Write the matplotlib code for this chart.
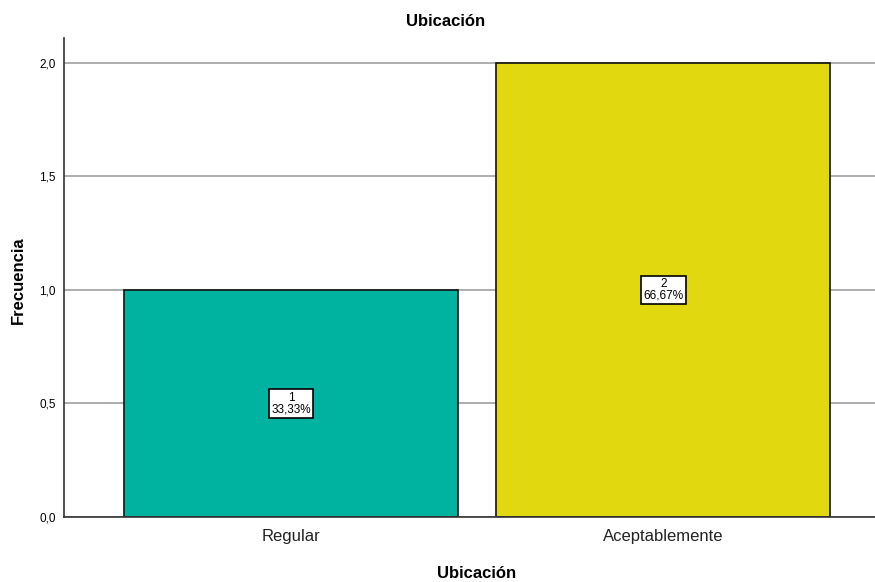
import matplotlib
matplotlib.use("Agg")
import matplotlib.pyplot as plt

categories = ["Regular", "Aceptablemente"]
counts = [1, 2]
percents = ["33,33%", "66,67%"]
colors = ["#00B3A0", "#E2D80F"]
yticks = [0.0, 0.5, 1.0, 1.5, 2.0]
ytick_labels = ["0,0", "0,5", "1,0", "1,5", "2,0"]

plt.rcParams['font.family'] = ['Liberation Sans', 'DejaVu Sans']

fig = plt.figure(figsize=(8.75, 5.82), dpi=100)
ax = fig.add_axes([64/875, 1-517/582, (875-64)/875, (517-38)/582])

x = list(range(len(categories)))
ax.set_axisbelow(True)
ax.yaxis.grid(True, color="#a0a0a0", linewidth=1.2)
ax.bar(x, counts, width=0.897, color=colors, edgecolor="#111111", linewidth=1.2, zorder=2)

for xi, c, p in zip(x, counts, percents):
    ax.text(xi, c/2, f"{c}\n{p}", ha="center", va="center", fontsize=8.5,
            linespacing=0.95, zorder=3,
            bbox=dict(boxstyle="square,pad=0.2", facecolor="white", edgecolor="black", linewidth=1.2))

ax.set_xlim(-0.609, 1.568)
ax.set_ylim(0, 2.11)
ax.set_yticks(yticks)
ax.set_yticklabels(ytick_labels, fontsize=8.5)
ax.set_xticks(x)
ax.set_xticklabels(categories, fontsize=12, color="#222222")
ax.tick_params(axis="both", length=0, pad=6)
ax.tick_params(axis="x", pad=9)
for s in ["top", "right"]:
    ax.spines[s].set_visible(False)
for s in ["left", "bottom"]:
    ax.spines[s].set_color("#333333")
    ax.spines[s].set_linewidth(1.2)

fig.text(446/875, 1-22/582, "Ubicación", ha="center", va="center", fontsize=12, fontweight="bold")
fig.text(477/875, 1-573/582, "Ubicación", ha="center", va="center", fontsize=12, fontweight="bold")
fig.text(18/875, 1-280/582, "Frecuencia", ha="center", va="center", fontsize=12, fontweight="bold", rotation=90)

fig.savefig("out.png", dpi=100)
